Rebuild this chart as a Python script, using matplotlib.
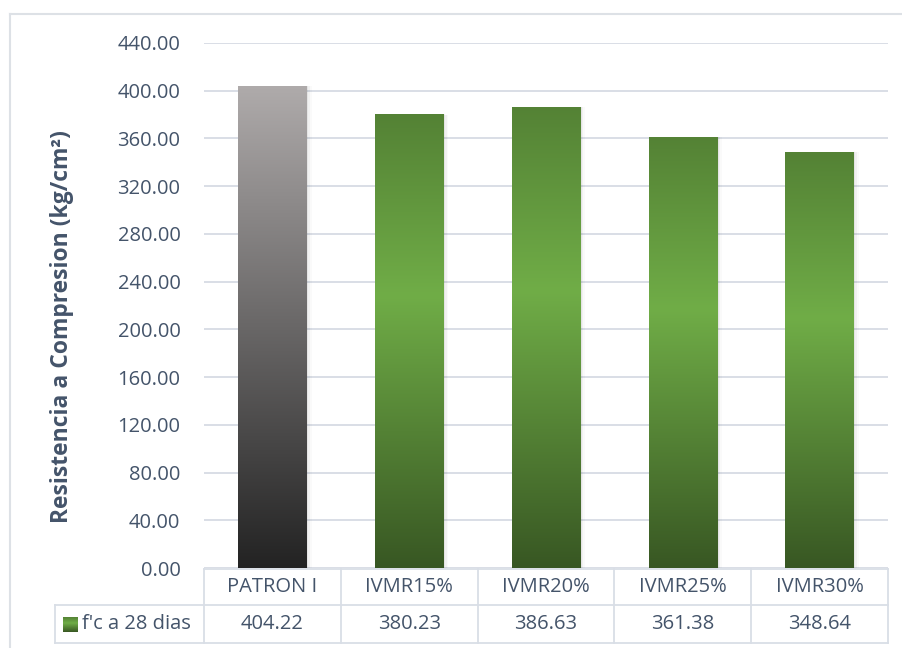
import numpy as np
import matplotlib.pyplot as plt
from matplotlib.colors import LinearSegmentedColormap
from matplotlib.transforms import blended_transform_factory
from matplotlib.lines import Line2D
from matplotlib.patches import Rectangle

categories = ["PATRON I", "IVMR15%", "IVMR20%", "IVMR25%", "IVMR30%"]
values = [404.22, 380.23, 386.63, 361.38, 348.64]
series_name = "f'c a 28 dias"
y_ticks = np.arange(0, 441, 40)
y_label = "Resistencia a Compresion (kg/cm²)"

plt.rcParams['font.family'] = ['Open Sans', 'DejaVu Sans']
TEXT = '#44546A'
GRID = '#D9DEE6'

W, H = 903, 648
fig = plt.figure(figsize=(W / 100, H / 100), dpi=100)


def fx(px):
    return px / W


def fy(py):
    return 1 - py / H


gray_cmap = LinearSegmentedColormap.from_list('gray_grad', ['#232323', '#AFABAB'])
green_cmap = LinearSegmentedColormap.from_list(
    'green_grad', [(0.0, '#385723'), (0.6, '#70AD47'), (1.0, '#548235')])

# outer chart frame
fig.add_artist(Line2D([fx(10), fx(10)], [fy(14), 0], transform=fig.transFigure,
                      color='#DDE1E6', lw=1.5))
fig.add_artist(Line2D([fx(10), 1], [fy(14), fy(14)], transform=fig.transFigure,
                      color='#DDE1E6', lw=1.5))

ax = fig.add_axes([fx(204), fy(568), fx(888) - fx(204), fy(43) - fy(568)])
x = np.arange(len(categories))

bars = ax.bar(x, values, width=0.5, color='none', edgecolor='none', zorder=3)
grad = np.linspace(0, 1, 256).reshape(-1, 1)
for i, (b, v) in enumerate(zip(bars, values)):
    cmap = gray_cmap if i == 0 else green_cmap
    x0 = b.get_x()
    w = b.get_width()
    # soft drop shadow
    for k, a in enumerate([0.05, 0.035, 0.02]):
        off = 0.012 * (k + 1)
        ax.add_patch(Rectangle((x0 + off * 0.5, 0), w + off * 0.5, v - off * 10,
                               facecolor='black', alpha=a, edgecolor='none', zorder=2))
    im = ax.imshow(grad, extent=[x0, x0 + w, 0, v], origin='lower', cmap=cmap,
                   aspect='auto', interpolation='bilinear', zorder=3)
    im.set_clip_path(b)

ax.set_xlim(-0.5, len(categories) - 0.5)
ax.set_ylim(0, 440)
ax.set_yticks(y_ticks)
ax.set_yticklabels([f"{t:.2f}" for t in y_ticks], fontsize=14.5, color=TEXT)
ax.tick_params(axis='y', length=0, pad=17)
ax.set_xticks([])
ax.yaxis.grid(True, color=GRID, lw=1.4)
ax.set_axisbelow(True)
for s in ax.spines.values():
    s.set_visible(False)

fig.text(fx(62), fy(327), y_label, rotation=90, ha='center', va='center',
         fontsize=16.5, fontweight='bold', color=TEXT)

# data table under the plot
tr = blended_transform_factory(ax.transData, fig.transFigure)
row_top, row_mid, row_bot = fy(569), fy(605), fy(643)
lw_tab = 1.3
right_edge = fx(888)
fig.add_artist(Line2D([-0.5, len(categories) - 0.5], [row_top, row_top], transform=tr,
                      color=GRID, lw=lw_tab, clip_on=False))
for yy in (row_mid, row_bot):
    fig.add_artist(Line2D([fx(55), right_edge], [yy, yy], transform=fig.transFigure,
                          color=GRID, lw=lw_tab))
fig.add_artist(Line2D([fx(55), fx(55)], [row_mid, row_bot], transform=fig.transFigure,
                      color=GRID, lw=lw_tab))
for i in range(len(categories) + 1):
    fig.add_artist(Line2D([i - 0.5, i - 0.5], [row_top, row_bot], transform=tr,
                          color=GRID, lw=lw_tab, clip_on=False))

for i, (c, v) in enumerate(zip(categories, values)):
    fig.text(i, fy(587), c, transform=tr, ha='center', va='center',
             fontsize=14.5, color=TEXT)
    fig.text(i, fy(624), f"{v:.2f}", transform=tr, ha='center', va='center',
             fontsize=14.5, color=TEXT)

key_ax = fig.add_axes([fx(63), fy(632), fx(78) - fx(63), fy(617) - fy(632)])
key_ax.imshow(grad, origin='lower', cmap=green_cmap, aspect='auto')
key_ax.axis('off')
fig.text(fx(82), fy(624), series_name, ha='left', va='center',
         fontsize=14.5, color=TEXT)

fig.savefig('out.png', dpi=100)
